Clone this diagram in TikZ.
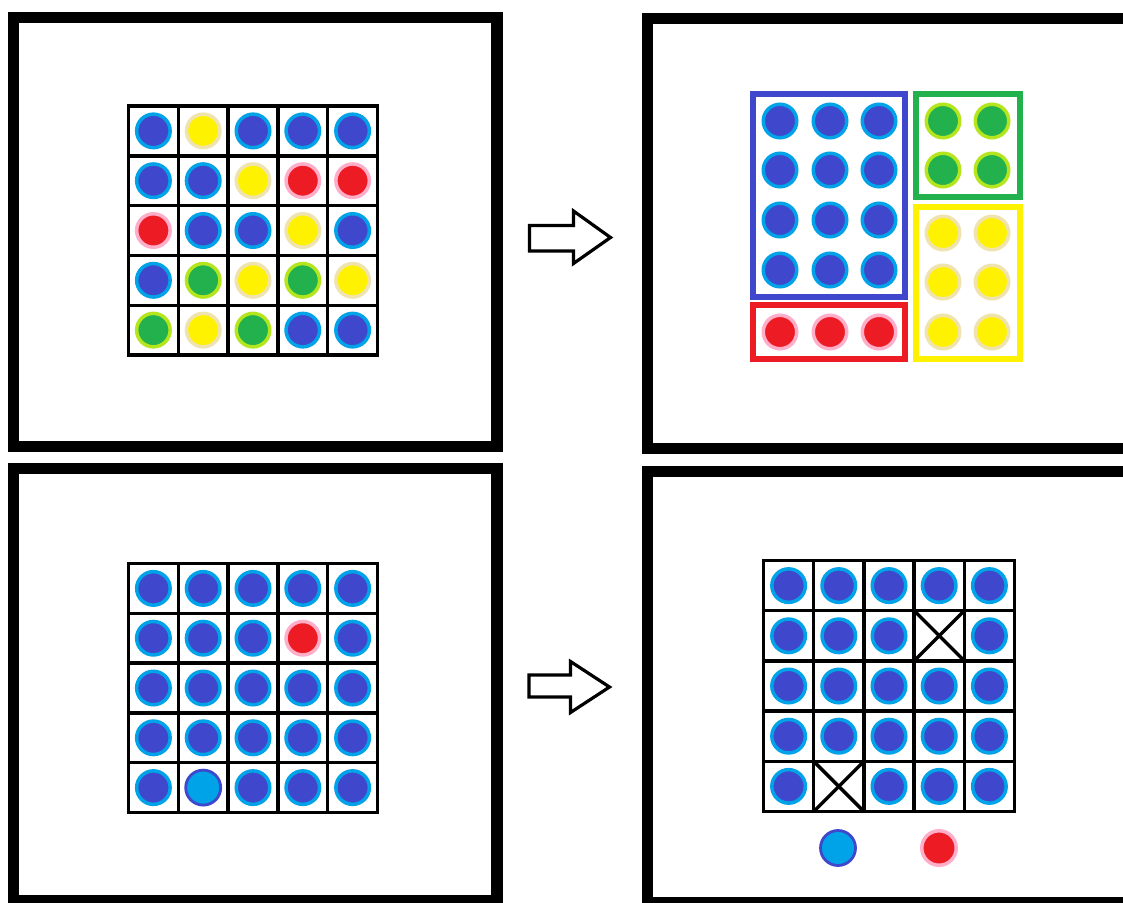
\documentclass[tikz,border=0pt]{standalone}
\definecolor{indigoP}{RGB}{63,72,204}
\definecolor{cyanP}{RGB}{0,162,232}
\definecolor{yellowP}{RGB}{255,242,0}
\definecolor{creamP}{RGB}{239,228,176}
\definecolor{redP}{RGB}{237,28,36}
\definecolor{pinkP}{RGB}{255,174,201}
\definecolor{greenP}{RGB}{34,177,76}
\definecolor{limeP}{RGB}{181,230,29}
\tikzset{
 dot/.style={circle,inner sep=0pt,minimum size=33.5pt,line width=3.5pt},
 dB/.style={dot,fill=indigoP,draw=cyanP},
 dY/.style={dot,fill=yellowP,draw=creamP},
 dR/.style={dot,fill=redP,draw=pinkP},
 dG/.style={dot,fill=greenP,draw=limeP},
 dC/.style={dot,fill=cyanP,draw=indigoP,line width=2.8pt,minimum size=35pt},
 dX/.style={inner sep=0pt,minimum size=50pt},
 frame/.style={draw=black,line width=11.5pt},
 gridline/.style={draw=black,line width=3.4pt,line cap=rect},
 crossline/.style={draw=black,line width=3.4pt},
 bigarrow/.style={draw=black,line width=3.2pt,line join=miter,fill=white},
 groupbox/.style={line width=6.5pt},
}
\begin{document}
\begin{tikzpicture}[x=1pt,y=-1pt]
\useasboundingbox (0,0) rectangle (1123,902);
\clip (0,0) rectangle (1123,902);
\fill[white] (0,0) rectangle (1123,902);

% frames
\draw[frame] (13.5,17.5) rectangle (497,446.5);
\draw[frame] (13.5,468.5) rectangle (497,900.5);
\draw[frame] (647.5,18.5) rectangle (1140,448.5);
\draw[frame] (647.5,471.5) rectangle (1140,902.5);

% top-left grid
\def\gx{128.5}\def\gy{106}\def\gp{49.8}
\foreach \k in {0,...,5} {
  \draw[gridline] (\gx+\k*\gp,\gy) -- (\gx+\k*\gp,\gy+5*\gp);
  \draw[gridline] (\gx,\gy+\k*\gp) -- (\gx+5*\gp,\gy+\k*\gp);
}
\foreach \c [count=\i from 0] in {B,Y,B,B,B, B,B,Y,R,R, R,B,B,Y,B, B,G,Y,G,Y, G,Y,G,B,B} {
  \pgfmathtruncatemacro{\row}{int(\i/5)}
  \pgfmathtruncatemacro{\col}{mod(\i,5)}
  \node[d\c] (tl-\i) at (\gx+\col*\gp+0.5*\gp,\gy+\row*\gp+0.5*\gp) {};
}

% bottom-left grid
\def\hx{128.5}\def\hy{563.5}\def\hp{49.8}
\foreach \k in {0,...,5} {
  \draw[gridline] (\hx+\k*\hp,\hy) -- (\hx+\k*\hp,\hy+5*\hp);
  \draw[gridline] (\hx,\hy+\k*\hp) -- (\hx+5*\hp,\hy+\k*\hp);
}
\foreach \c [count=\i from 0] in {B,B,B,B,B, B,B,B,R,B, B,B,B,B,B, B,B,B,B,B, B,C,B,B,B} {
  \pgfmathtruncatemacro{\row}{int(\i/5)}
  \pgfmathtruncatemacro{\col}{mod(\i,5)}
  \node[d\c] (bl-\i) at (\hx+\col*\hp+0.5*\hp,\hy+\row*\hp+0.5*\hp) {};
}

% bottom-right grid
\def\kx{763.5}\def\ky{560.5}\def\kp{50.2}
\foreach \k in {0,...,5} {
  \draw[gridline] (\kx+\k*\kp,\ky) -- (\kx+\k*\kp,\ky+5*\kp);
  \draw[gridline] (\kx,\ky+\k*\kp) -- (\kx+5*\kp,\ky+\k*\kp);
}
\foreach \c [count=\i from 0] in {B,B,B,B,B, B,B,B,X,B, B,B,B,B,B, B,B,B,B,B, B,X,B,B,B} {
  \pgfmathtruncatemacro{\row}{int(\i/5)}
  \pgfmathtruncatemacro{\col}{mod(\i,5)}
  \node[d\c] (br-\i) at (\kx+\col*\kp+0.5*\kp,\ky+\row*\kp+0.5*\kp) {};
}
\foreach \n in {8,21} {
  \draw[crossline] (br-\n.north west) -- (br-\n.south east);
  \draw[crossline] (br-\n.north east) -- (br-\n.south west);
}
\node[dC] (outC) at (838,848) {};
\node[dR,minimum size=34.5pt] (outR) at (939,848) {};

% top-right groups
\draw[groupbox,draw=indigoP] (753,94) rectangle (905,297);
\draw[groupbox,draw=redP] (753,305) rectangle (905,359);
\draw[groupbox,draw=greenP] (916,94) rectangle (1020,197);
\draw[groupbox,draw=yellowP] (916,207) rectangle (1020,359);
\foreach \x [count=\a] in {780,830,879} {
  \foreach \y [count=\b] in {121,170,220,270} {
    \node[dB] (gb-\a-\b) at (\x,\y) {};
  }
  \node[dR] (gr-\a) at (\x,332) {};
}
\foreach \x [count=\a] in {943,992} {
  \foreach \y [count=\b] in {121,170} {
    \node[dG] (gg-\a-\b) at (\x,\y) {};
  }
  \foreach \y [count=\b] in {233,282,332} {
    \node[dY] (gy-\a-\b) at (\x,\y) {};
  }
}

% arrows
\draw[bigarrow] (529.5,225.5) -- (573.5,225.5) -- (573.5,211) -- (610.5,237.5)
  -- (573.5,263.5) -- (573.5,251) -- (529.5,251) -- cycle;
\draw[bigarrow] (529,675) -- (570.5,675) -- (570.5,661.5) -- (609.5,687)
  -- (570.5,712.5) -- (570.5,697) -- (529,697) -- cycle;
\end{tikzpicture}
\end{document}
